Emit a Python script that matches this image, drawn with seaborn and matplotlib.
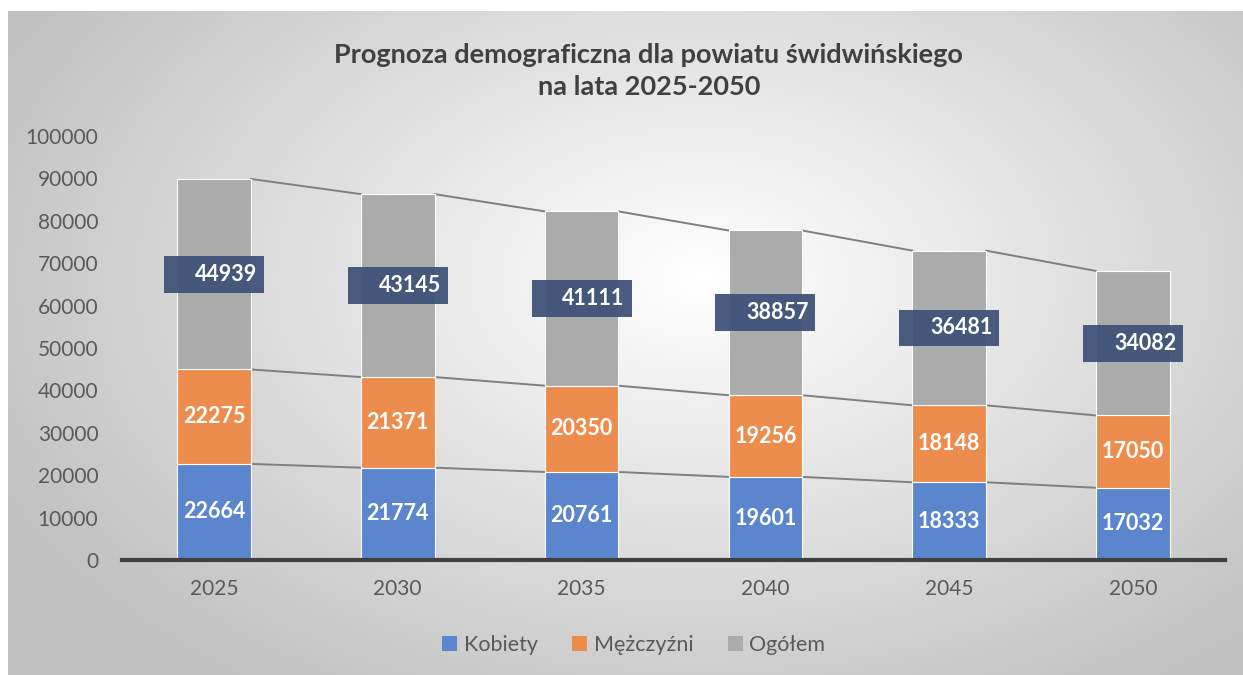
import numpy as np
import pandas as pd
import matplotlib
matplotlib.use('Agg')
import matplotlib.pyplot as plt
from matplotlib.patches import Rectangle, Patch
import seaborn as sns

# ================================================
# Data — demographic forecast, powiat świdwiński
# ================================================
years = ['2025', '2030', '2035', '2040', '2045', '2050']
kobiety = [22664, 21774, 20761, 19601, 18333, 17032]
mezczyzni = [22275, 21371, 20350, 19256, 18148, 17050]
ogolem = [44939, 43145, 41111, 38857, 36481, 34082]

df = pd.DataFrame({'Rok': years, 'Kobiety': kobiety,
                   'Mężczyźni': mezczyzni, 'Ogółem': ogolem})
df['b1'] = df['Kobiety']
df['b2'] = df['Kobiety'] + df['Mężczyźni']
df['top'] = df['b2'] + df['Ogółem']

c_blue = '#5B85CD'
c_orange = '#ED8D4D'
c_gray = '#ABABAB'
c_box = '#40547A'
c_text = '#595959'

sns.set_theme(style='white')
plt.rcParams['font.family'] = ['Lato', 'DejaVu Sans']

fig = plt.figure(figsize=(12.43, 6.75), dpi=100)
fig.patch.set_facecolor('white')

# background gradient (Excel-like radial fill)
bg = fig.add_axes([8 / 1243, 0, 1 - 8 / 1243, 1 - 11 / 675], zorder=-10)
h, w = 330, 620
yy, xx = np.mgrid[0:h, 0:w]
cx, cy = 0.56 * w, 0.40 * h
d = np.sqrt(((xx - cx) / (0.52 * w)) ** 2 + ((yy - cy) / (0.62 * h)) ** 2)
val = 1 - 0.24 * np.clip(d, 0, 1.2) / 1.2
bg.imshow(np.dstack([val, val, val]), aspect='auto', interpolation='bilinear')
bg.axis('off')

ax = fig.add_axes([122 / 1243, 1 - 560 / 675, (1225 - 122) / 1243, (560 - 136) / 675])
ax.set_facecolor('none')

bw = 0.4
sns.barplot(data=df, x='Rok', y='Kobiety', color=c_blue, width=bw,
            edgecolor='white', linewidth=0.8, saturation=1, ax=ax, zorder=2)
sns.barplot(data=df, x='Rok', y='Mężczyźni', bottom=df['b1'], color=c_orange,
            width=bw, edgecolor='white', linewidth=0.8, saturation=1, ax=ax, zorder=2)
sns.barplot(data=df, x='Rok', y='Ogółem', bottom=df['b2'], color=c_gray,
            width=bw, edgecolor='white', linewidth=0.8, saturation=1, ax=ax, zorder=2)

# series lines between bars
for col in ['b1', 'b2', 'top']:
    vals = df[col].values
    for i in range(len(years) - 1):
        ax.plot([i + bw / 2, i + 1 - bw / 2], [vals[i], vals[i + 1]],
                color='#7F7F7F', lw=1.4, zorder=1)

# data labels
for i in range(len(years)):
    ax.text(i, kobiety[i] / 2, str(kobiety[i]), ha='center', va='center',
            color='white', fontsize=15.5, fontweight='bold', zorder=4)
    ax.text(i, df['b1'][i] + mezczyzni[i] / 2, str(mezczyzni[i]), ha='center',
            va='center', color='white', fontsize=15.5, fontweight='bold', zorder=4)
    mid = df['b2'][i] + ogolem[i] / 2
    bx_w, bx_h = 100 / 184, 8700
    ax.add_patch(Rectangle((i - bx_w / 2, mid - bx_h / 2), bx_w, bx_h,
                           facecolor=c_box, edgecolor='none', alpha=0.95, zorder=3))
    ax.text(i + 0.065, mid, str(ogolem[i]), ha='center', va='center',
            color='white', fontsize=15.5, fontweight='bold', zorder=4)

ax.set_xlim(-0.5, 5.5)
ax.set_ylim(0, 100000)
ax.set_yticks(range(0, 100001, 10000))
ax.set_yticklabels([str(v) for v in range(0, 100001, 10000)])
ax.set_xlabel('')
ax.set_ylabel('')
ax.tick_params(axis='y', length=0, pad=17, labelsize=15, labelcolor=c_text)
ax.tick_params(axis='x', length=0, pad=14, labelsize=15, labelcolor=c_text)
for s in ['left', 'right', 'top']:
    ax.spines[s].set_visible(False)
ax.spines['bottom'].set_color('#404040')
ax.spines['bottom'].set_linewidth(3)
ax.spines['bottom'].set_zorder(5)

fig.text(0.522, 1 - 71 / 675,
         'Prognoza demograficzna dla powiatu świdwińskiego\nna lata 2025-2050',
         ha='center', va='center', fontsize=19.5, fontweight='bold',
         color='#404040', linespacing=1.4)

handles = [Patch(facecolor=c, edgecolor='none') for c in [c_blue, c_orange, c_gray]]
fig.legend(handles, ['Kobiety', 'Mężczyźni', 'Ogółem'], loc='center',
           bbox_to_anchor=(0.51, 1 - 645 / 675), ncol=3, frameon=False,
           fontsize=15.5, handlelength=0.7, handleheight=0.7, handletextpad=0.3,
           columnspacing=1.6, labelcolor=c_text)

plt.savefig('out.png', dpi=100)
